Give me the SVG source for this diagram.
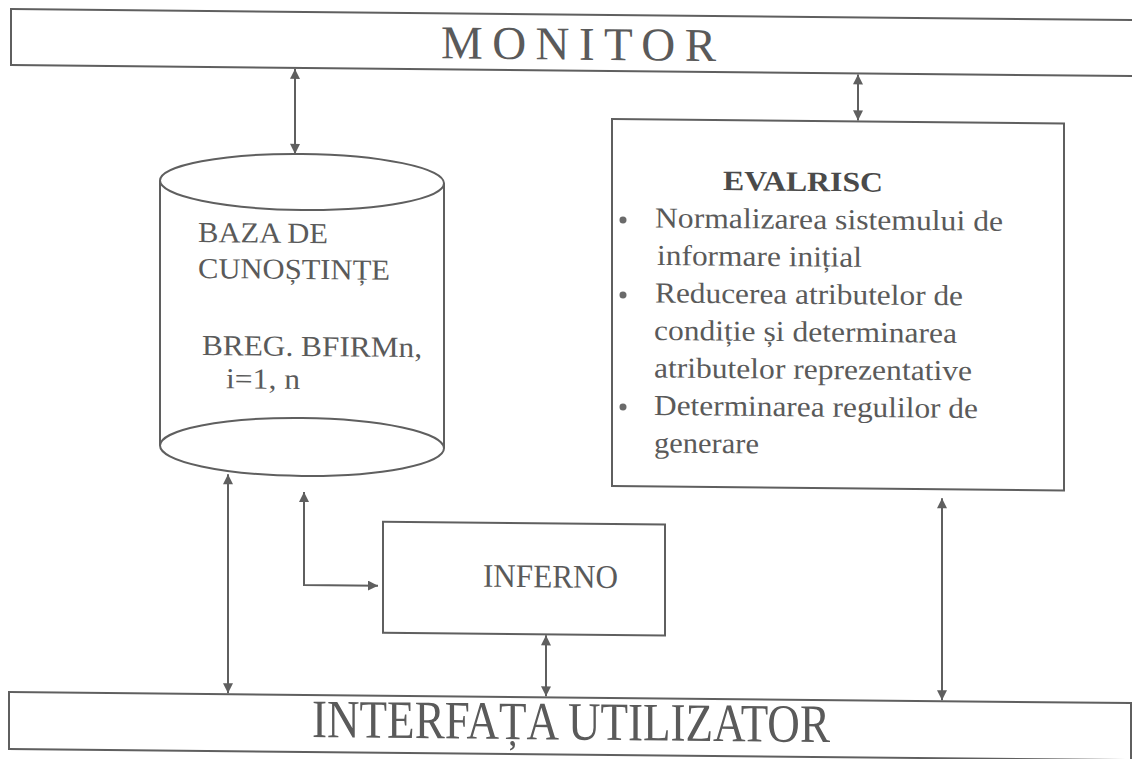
<svg xmlns="http://www.w3.org/2000/svg" width="1132" height="759" viewBox="0 0 1132 759">
  <style>
    .box { fill: none; stroke: #5f5f5f; stroke-width: 2; }
    .conn { fill: none; stroke: #5f5f5f; stroke-width: 2; }
    .txt { font-family: "Liberation Serif", Tinos, "DejaVu Serif", "Noto Serif", serif; fill: #5a5a5a; }
    .bar { font-size: 47px; }
    .lbl { font-size: 29px; }
    .bold { font-weight: bold; font-size: 28px; fill: #4a4a4a; }
    .dot { fill: #6a6a6a; }
  </style>
  <defs>
    <marker id="arrow" viewBox="0 0 10 10" refX="10" refY="5" markerWidth="11" markerHeight="10" markerUnits="userSpaceOnUse" orient="auto-start-reverse">
      <path d="M0,0 L10,5 L0,10 Z" fill="#5f5f5f"/>
    </marker>
  </defs>
  <rect width="1132" height="759" fill="#ffffff"/>

  <!-- whole sheet has a slight downward slope to the right -->
  <g transform="skewY(0.56)">
    <g id="monitor">
      <rect class="box" x="11" y="9" width="1135" height="56"/>
      <text class="txt bar" x="441" y="54" textLength="275" lengthAdjust="spacing">MONITOR</text>
    </g>

    <g id="baza-de-cunostinte">
      <path class="box" d="M160,179 L160,444"/>
      <path class="box" d="M444,179 L444,444"/>
      <ellipse class="box" cx="302" cy="179" rx="142" ry="28"/>
      <path class="box" d="M160,444 A142,29 0 0 0 444,444 A142,29 0 0 0 160,444"/>
      <text class="txt lbl" x="198" y="240" textLength="130" lengthAdjust="spacingAndGlyphs">BAZA DE</text>
      <text class="txt lbl" x="198" y="276" textLength="192" lengthAdjust="spacingAndGlyphs">CUNOȘTINȚE</text>
      <text class="txt lbl" x="202" y="353" textLength="220" lengthAdjust="spacingAndGlyphs">BREG. BFIRMn,</text>
      <text class="txt lbl" x="226" y="386" textLength="74" lengthAdjust="spacingAndGlyphs">i=1, n</text>
    </g>

    <g id="evalrisc">
      <rect class="box" x="612" y="113" width="452" height="367"/>
      <text class="txt bold" x="723" y="183" textLength="160" lengthAdjust="spacingAndGlyphs">EVALRISC</text>
      <circle class="dot" cx="623" cy="214" r="3.5"/>
      <circle class="dot" cx="623" cy="289" r="3.5"/>
      <circle class="dot" cx="623" cy="401" r="3.5"/>
      <text class="txt lbl" x="655" y="221" textLength="348" lengthAdjust="spacingAndGlyphs">Normalizarea sistemului de</text>
      <text class="txt lbl" x="657" y="258.5" textLength="205" lengthAdjust="spacingAndGlyphs">informare inițial</text>
      <text class="txt lbl" x="655" y="296" textLength="308" lengthAdjust="spacingAndGlyphs">Reducerea atributelor de</text>
      <text class="txt lbl" x="654" y="333.5" textLength="303" lengthAdjust="spacingAndGlyphs">condiție și determinarea</text>
      <text class="txt lbl" x="654" y="371" textLength="318" lengthAdjust="spacingAndGlyphs">atributelor reprezentative</text>
      <text class="txt lbl" x="654" y="408.5" textLength="324" lengthAdjust="spacingAndGlyphs">Determinarea regulilor de</text>
      <text class="txt lbl" x="654" y="446" textLength="105" lengthAdjust="spacingAndGlyphs">generare</text>
    </g>

    <g id="inferno">
      <rect class="box" x="383" y="518" width="282" height="111"/>
      <text class="txt" x="483" y="582" font-size="33" textLength="135" lengthAdjust="spacingAndGlyphs">INFERNO</text>
    </g>

    <g id="interfata-utilizator">
      <rect class="box" x="9" y="692" width="1122" height="57"/>
      <text class="txt" x="312" y="734" font-size="54" textLength="518" lengthAdjust="spacingAndGlyphs">INTERFAȚA UTILIZATOR</text>
    </g>

    <g id="connectors">
      <line class="conn" x1="295" y1="66" x2="295" y2="151" marker-start="url(#arrow)" marker-end="url(#arrow)"/>
      <line class="conn" x1="858" y1="66" x2="858" y2="112" marker-start="url(#arrow)" marker-end="url(#arrow)"/>
      <line class="conn" x1="228" y1="472" x2="228" y2="691" marker-start="url(#arrow)" marker-end="url(#arrow)"/>
      <polyline class="conn" points="304,489 304,582 378,582" marker-start="url(#arrow)" marker-end="url(#arrow)"/>
      <line class="conn" x1="546" y1="630" x2="546" y2="691" marker-start="url(#arrow)" marker-end="url(#arrow)"/>
      <line class="conn" x1="942" y1="489" x2="942" y2="691" marker-start="url(#arrow)" marker-end="url(#arrow)"/>
    </g>
  </g>
</svg>
